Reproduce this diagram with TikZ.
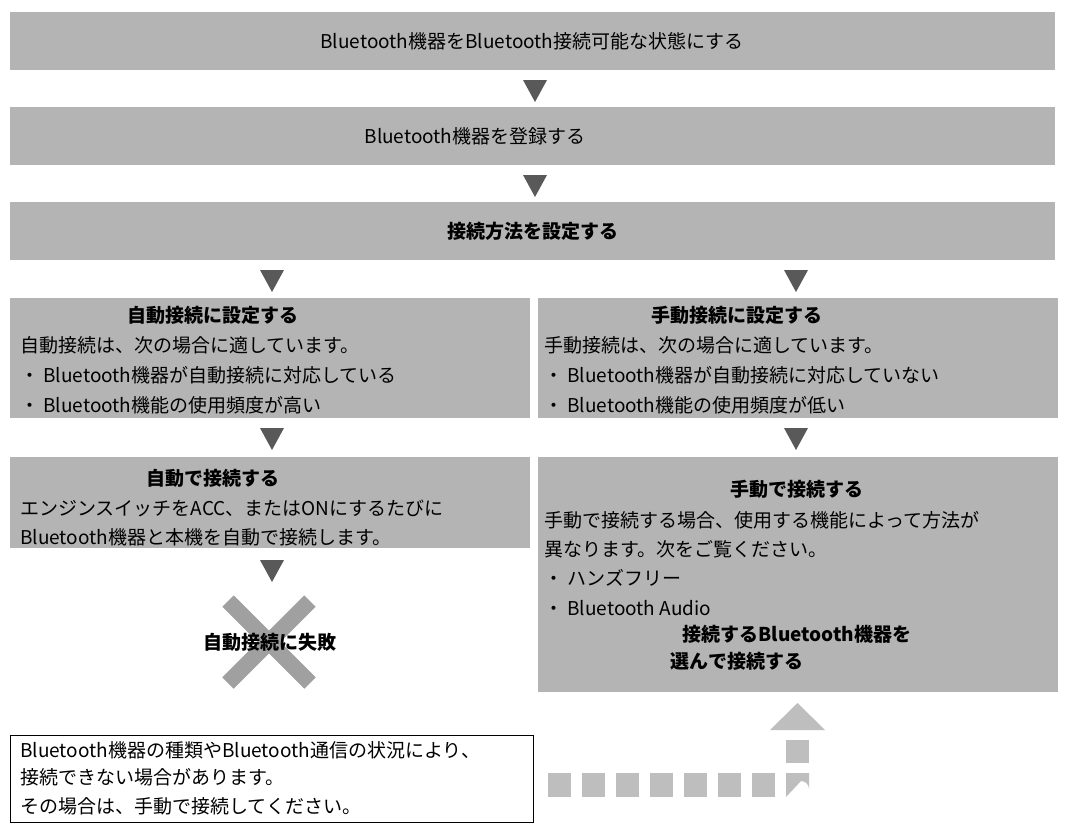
\documentclass[tikz,border=0pt]{standalone}
\usepackage{fontspec}
\setmainfont{Noto Sans CJK JP}
\begin{document}
\begin{tikzpicture}[x=1pt,y=-1pt,
  box/.style={fill=boxgray,draw=none},
  dn/.style={fill=arrgray,draw=none},
  t/.style={font=\fontsize{19}{22}\selectfont,inner sep=0pt},
  tb/.style={font=\fontsize{19}{22}\selectfont\bfseries,inner sep=0pt},
  sq/.style={fill=dashgray,draw=none}]
\definecolor{boxgray}{HTML}{B4B4B4}
\definecolor{arrgray}{HTML}{595959}
\definecolor{dashgray}{HTML}{BEBEBE}
\definecolor{xgray}{HTML}{A0A0A0}
\useasboundingbox (0,0) rectangle (1071,833);
\fill[white] (0,0) rectangle (1071,833);
% boxes
\fill[box] (10,12) rectangle (1055,70);
\fill[box] (10,107) rectangle (1055,165);
\fill[box] (10,202) rectangle (1055,260);
\fill[box] (10,298) rectangle (530,418);
\fill[box] (538,298) rectangle (1058,418);
\fill[box] (10,457) rectangle (530,548);
\fill[box] (538,457) rectangle (1058,692);
% arrows
\foreach \x/\y in {535/80,535/175,272/270,796/270,272/428,796/428,272/560}
  \fill[dn] (\x-12,\y) -- (\x+12,\y) -- (\x,\y+22) -- cycle;
% X
\draw[xgray,line width=16pt] (228,601) -- (310,683) (310,601) -- (228,683);
% texts
\node[t] (a) at (532,41) {Bluetooth機器をBluetooth接続可能な状態にする};
\node[t] (b) at (475,136) {Bluetooth機器を登録する};
\node[tb] (c) at (533,231) {接続方法を設定する};
\node[tb] (l1) at (213,315) {自動接続に設定する};
\node[t,anchor=west] (l2) at (20,345) {自動接続は、次の場合に適しています。};
\node[t,anchor=west] (l3) at (20,375) {・ Bluetooth機器が自動接続に対応している};
\node[t,anchor=west] (l4) at (20,405) {・ Bluetooth機能の使用頻度が高い};
\node[tb] (r1) at (737,315) {手動接続に設定する};
\node[t,anchor=west] (r2) at (544,345) {手動接続は、次の場合に適しています。};
\node[t,anchor=west] (r3) at (544,375) {・ Bluetooth機器が自動接続に対応していない};
\node[t,anchor=west] (r4) at (544,405) {・ Bluetooth機能の使用頻度が低い};
\node[tb] (m1) at (213,478) {自動で接続する};
\node[t,anchor=west] (m2) at (20,508) {エンジンスイッチをACC、またはONにするたびに};
\node[t,anchor=west] (m3) at (20,537) {Bluetooth機器と本機を自動で接続します。};
\node[tb] (f) at (270,642) {自動接続に失敗};
\node[tb] (n1) at (797,489) {手動で接続する};
\node[t,anchor=west] (n2) at (544,520) {手動で接続する場合、使用する機能によって方法が};
\node[t,anchor=west] (n3) at (544,549) {異なります。次をご覧ください。};
\node[t,anchor=west] (n4) at (544,578) {・ ハンズフリー};
\node[t,anchor=west] (n5) at (544,608) {・ Bluetooth Audio};
\node[tb] (n6) at (797,634) {接続するBluetooth機器を};
\node[tb] (n7) at (737,661) {選んで接続する};
% note
\draw[black,line width=0.8pt] (10,735) rectangle (533,822);
\node[t,anchor=west] (o1) at (20,750) {Bluetooth機器の種類やBluetooth通信の状況により、};
\node[t,anchor=west] (o2) at (20,777) {接続できない場合があります。};
\node[t,anchor=west] (o3) at (20,806) {その場合は、手動で接続してください。};
% dashed arrow
\foreach \i in {0,...,6} \fill[sq] (548+34*\i,773) rectangle ++(23,24);
\fill[sq] (786,773) -- (809,773) -- (809,789) arc[start angle=0,end angle=90,x radius=8,y radius=-8] -- (786,797) -- cycle;
\fill[sq] (786,740) rectangle (809,763);
\fill[sq] (770,730) -- (825,730) -- (797.5,703) -- cycle;
\end{tikzpicture}
\end{document}
